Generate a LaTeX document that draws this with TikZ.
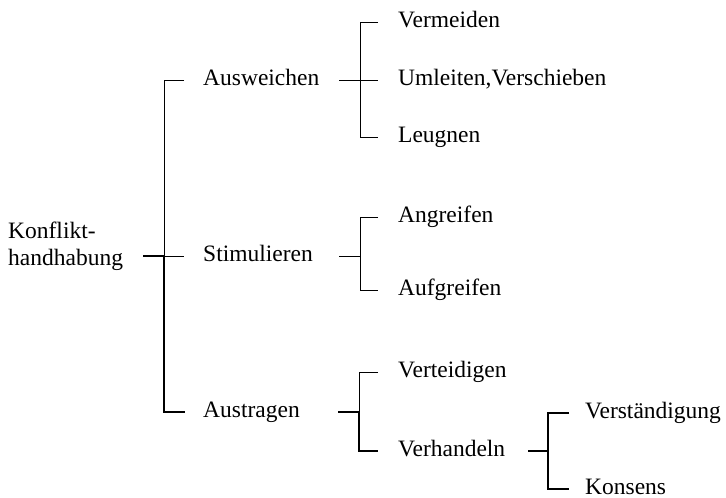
\documentclass[tikz,border=0pt]{standalone}
\usepackage{fontspec}
\setmainfont{Liberation Serif}
\begin{document}
\begin{tikzpicture}[x=1pt,y=1pt,
  lbl/.style={anchor=base west, inner sep=0pt, font=\fontsize{23.5}{27}\selectfont},
  rootlbl/.style={anchor=north west, inner sep=0pt, align=left, font=\fontsize{23.5}{27}\selectfont},
  thinln/.style={line width=1pt, line join=miter},
  thickln/.style={line width=2.8pt, line join=miter}]
\useasboundingbox (0,0) rectangle (726,-498);

% ---- text nodes ----
\node[rootlbl] (root) at (8,-222) {Konflikt-\\handhabung};
\node[lbl] (ausw) at (203,-85) {Ausweichen};
\node[lbl] (stim) at (203,-261) {Stimulieren};
\node[lbl] (austr) at (203,-417) {Austragen};
\node[lbl] (verm) at (398,-27) {Vermeiden};
\node[lbl] (umle) at (398,-85) {Umleiten,Verschieben};
\node[lbl] (leug) at (398,-142) {Leugnen};
\node[lbl] (angr) at (398,-222) {Angreifen};
\node[lbl] (aufg) at (398,-295) {Aufgreifen};
\node[lbl] (vert) at (398,-377) {Verteidigen};
\node[lbl] (verh) at (398,-456) {Verhandeln};
\node[lbl] (vers) at (585,-418) {Verständigung};
\node[lbl] (kons) at (585,-494) {Konsens};

% ---- junction coordinates ----
\coordinate (r0) at (143,-256);
\coordinate (j0) at (164,-256);
\coordinate (j0a) at (164,-80);
\coordinate (j0c) at (164,-412);
\coordinate (e0a) at (184,-80);
\coordinate (e0b) at (184,-256);
\coordinate (e0c) at (185,-412);

\coordinate (s1) at (339,-80);
\coordinate (j1) at (360,-80);
\coordinate (j1t) at (360,-22);
\coordinate (j1b) at (360,-137);
\coordinate (e1t) at (378,-22);
\coordinate (e1m) at (378,-80);
\coordinate (e1b) at (378,-137);

\coordinate (s2) at (339,-256);
\coordinate (j2) at (360,-256);
\coordinate (j2t) at (360,-217);
\coordinate (j2b) at (360,-290);
\coordinate (e2t) at (378,-217);
\coordinate (e2b) at (378,-290);

\coordinate (s3) at (338,-412);
\coordinate (j3) at (359,-412);
\coordinate (j3t) at (359,-372);
\coordinate (j3b) at (359,-451);
\coordinate (e3t) at (378,-372);
\coordinate (e3b) at (378,-451);

\coordinate (s4) at (528,-451);
\coordinate (j4) at (548,-451);
\coordinate (j4t) at (548,-413);
\coordinate (j4b) at (548,-489);
\coordinate (e4t) at (569,-413);
\coordinate (e4b) at (569,-489);

% ---- connectors: root ----
\draw[thinln] (e0a) -- (j0a) -- (j0);
\draw[thinln] (j0) -- (e0b);
\draw[thickln] (r0) -- (j0) -- (j0c) -- (e0c);

% ---- Ausweichen ----
\draw[thinln] (e1t) -- (j1t) -- (j1b) -- (e1b);
\draw[thinln] (s1) -- (e1m);

% ---- Stimulieren ----
\draw[thinln] (e2t) -- (j2t) -- (j2b) -- (e2b);
\draw[thinln] (s2) -- (j2);

% ---- Austragen ----
\draw[thinln] (e3t) -- (j3t) -- (j3);
\draw[thickln] (s3) -- (j3) -- (j3b) -- (e3b);

% ---- Verhandeln ----
\draw[thickln] (e4t) -- (j4t) -- (j4b) -- (e4b);
\draw[thickln] (s4) -- (j4);
\end{tikzpicture}
\end{document}
